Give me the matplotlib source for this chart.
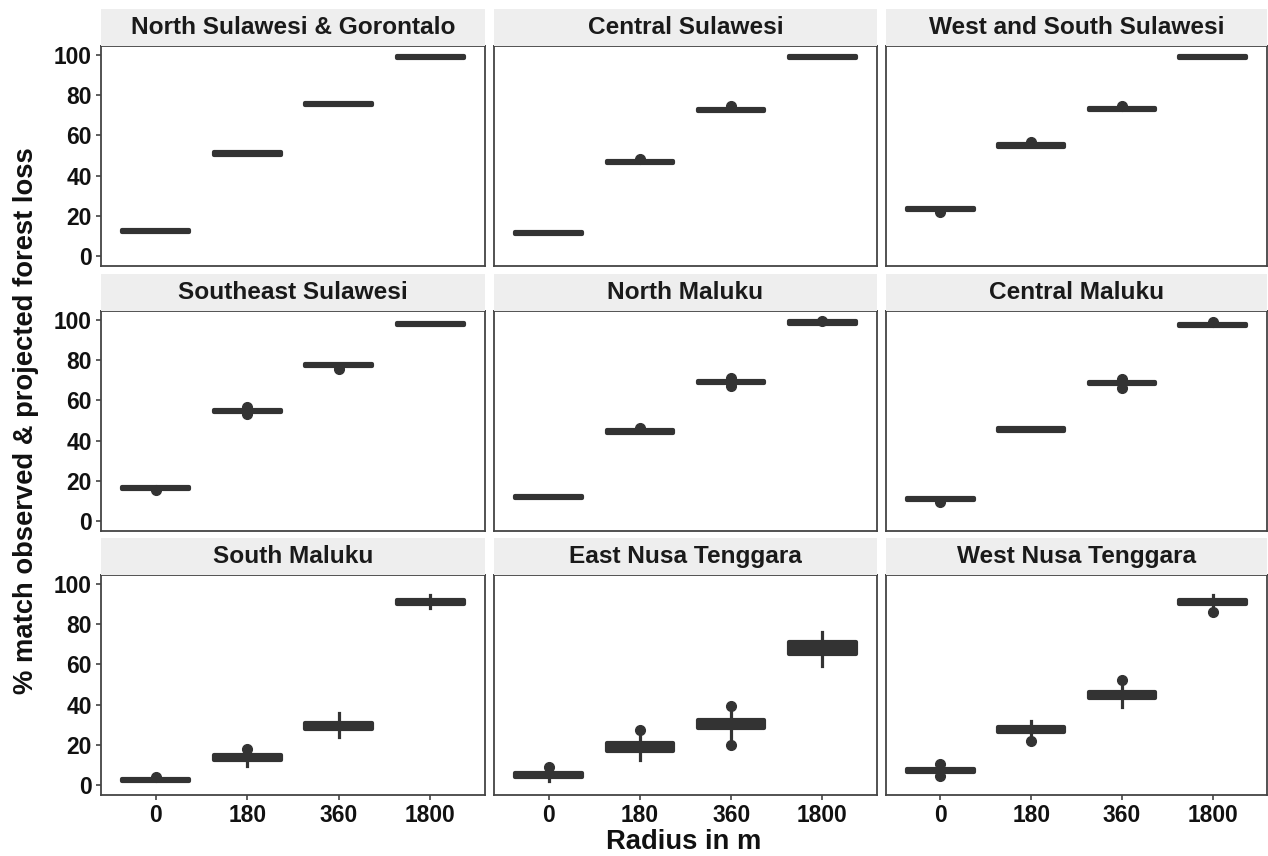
import matplotlib
matplotlib.use("Agg")
import matplotlib.pyplot as plt

plt.rcParams['font.family'] = ['Liberation Sans', 'DejaVu Sans']
plt.rcParams['font.weight'] = 'bold'

regions = ["North Sulawesi & Gorontalo", "Central Sulawesi", "West and South Sulawesi",
           "Southeast Sulawesi", "North Maluku", "Central Maluku",
           "South Maluku", "East Nusa Tenggara", "West Nusa Tenggara"]
radius_labels = ["0", "180", "360", "1800"]

medians = [
    [12.5, 51.0, 75.5, 99.0],
    [11.5, 46.7, 72.6, 99.0],
    [23.5, 54.9, 73.0, 99.0],
    [16.3, 54.7, 77.5, 98.0],
    [12.0, 44.6, 69.2, 98.7],
    [11.0, 45.6, 68.7, 97.5],
    [2.5, 13.5, 29.5, 91.0],
    [5.0, 19.0, 30.5, 68.0],
    [7.3, 27.5, 45.0, 91.0],
]
q1 = [
    [11.9, 50.4, 74.9, 98.4],
    [10.9, 46.1, 72.0, 98.4],
    [22.9, 54.3, 72.4, 98.4],
    [15.7, 54.1, 76.9, 97.4],
    [11.4, 44.0, 68.6, 98.1],
    [10.4, 45.0, 68.1, 96.9],
    [1.8, 12.5, 28.0, 90.3],
    [4.0, 17.0, 28.5, 65.3],
    [6.5, 26.5, 43.5, 90.0],
]
q3 = [
    [13.1, 51.6, 76.1, 99.6],
    [12.1, 47.3, 73.2, 99.6],
    [24.1, 55.5, 73.6, 99.6],
    [16.9, 55.3, 78.1, 98.6],
    [12.6, 45.2, 69.8, 99.3],
    [11.6, 46.2, 69.3, 98.1],
    [3.2, 15.0, 31.0, 92.0],
    [6.0, 21.0, 32.5, 71.0],
    [8.0, 28.8, 46.5, 92.0],
]
whisker_low = [
    [11.9, 50.4, 74.9, 98.4],
    [10.9, 46.1, 72.0, 98.4],
    [22.9, 54.3, 72.4, 98.4],
    [15.7, 54.1, 76.9, 97.4],
    [11.4, 44.0, 68.6, 98.1],
    [10.4, 45.0, 68.1, 96.9],
    [1.8, 9.6, 23.7, 88.0],
    [2.0, 12.4, 22.0, 59.0],
    [5.5, 23.5, 38.7, 87.5],
]
whisker_high = [
    [13.1, 51.6, 76.1, 99.6],
    [12.1, 47.3, 73.2, 99.6],
    [24.1, 55.5, 73.6, 99.6],
    [16.9, 55.3, 78.1, 98.6],
    [12.6, 45.2, 69.8, 99.3],
    [11.6, 46.2, 69.3, 98.1],
    [3.2, 15.5, 36.0, 94.5],
    [7.0, 25.0, 37.0, 76.0],
    [9.0, 32.0, 50.0, 94.5],
]
outliers = [
    [[], [], [], []],
    [[], [48.5], [74.5], []],
    [[21.8], [56.8], [74.8], []],
    [[15.2], [56.5, 53.0], [75.5], []],
    [[], [46.3], [71.0, 67.0], [99.5]],
    [[9.3], [], [70.5, 66.0], [99.0]],
    [[3.8], [18.0], [], []],
    [[8.8], [27.5], [39.2, 20.0], []],
    [[10.2, 4.7], [21.7], [52.0], [86.0]],
]

W, H = 1268, 856
fig = plt.figure(figsize=(W / 100, H / 100), dpi=100)

def rect(l, t, r, b):
    return [l / W, 1 - b / H, (r - l) / W, (b - t) / H]

cols = [(101, 485), (494, 877), (886, 1267)]
rows = [(46, 266), (311, 531), (575, 795)]
strip_h = 37
dark = '#333333'

for i, name in enumerate(regions):
    r, c = divmod(i, 3)
    l, rr = cols[c]
    t, b = rows[r]
    ax = fig.add_axes(rect(l, t, rr, b))
    stats = []
    for j in range(4):
        stats.append(dict(med=medians[i][j], q1=q1[i][j], q3=q3[i][j],
                          whislo=whisker_low[i][j], whishi=whisker_high[i][j],
                          fliers=outliers[i][j], label=radius_labels[j]))
    ax.bxp(stats, positions=[1, 2, 3, 4], widths=0.73, patch_artist=True,
           showcaps=False,
           boxprops=dict(facecolor=dark, edgecolor=dark, linewidth=3.0, joinstyle='round'),
           medianprops=dict(color=dark, linewidth=2.8),
           whiskerprops=dict(color=dark, linewidth=2.3),
           flierprops=dict(marker='o', markerfacecolor=dark, markeredgecolor=dark,
                           markersize=7.0))
    ax.set_xlim(0.4, 4.6)
    ax.set_ylim(-5, 104.5)
    ax.set_facecolor('white')
    for s in ax.spines.values():
        s.set_color('#444444')
        s.set_linewidth(1.3)
    ax.set_yticks([0, 20, 40, 60, 80, 100])
    ax.set_xticks([1, 2, 3, 4])
    ax.tick_params(axis='both', length=3.6, width=1.1, color=dark, labelsize=16.4,
                   labelcolor='#111111', pad=3.0)
    if c == 0:
        ax.set_yticklabels([str(v) for v in [0, 20, 40, 60, 80, 100]], fontweight='bold')
    else:
        ax.tick_params(axis='y', left=False, labelleft=False)
    if r == 2:
        ax.set_xticklabels(radius_labels, fontweight='bold')
    else:
        ax.tick_params(axis='x', bottom=False, labelbottom=False)

    sax = fig.add_axes(rect(l, t - strip_h, rr, t))
    sax.set_facecolor('#EEEEEE')
    sax.set_xticks([]); sax.set_yticks([])
    for s in sax.spines.values():
        s.set_visible(False)
    sax.text(0.5, 0.5, name, ha='center', va='center', fontsize=17.6,
             fontweight='bold', color='#1a1a1a', transform=sax.transAxes)

fig.text(684 / W, 1 - 842 / H, "Radius in m", ha='center', va='center',
         fontsize=19.7, fontweight='bold', color='#111111')
fig.text(26 / W, 1 - 421 / H, "% match observed & projected forest loss", ha='center',
         va='center', rotation=90, fontsize=19.7, fontweight='bold', color='#111111')

fig.savefig("out.png", dpi=100, facecolor='white')
